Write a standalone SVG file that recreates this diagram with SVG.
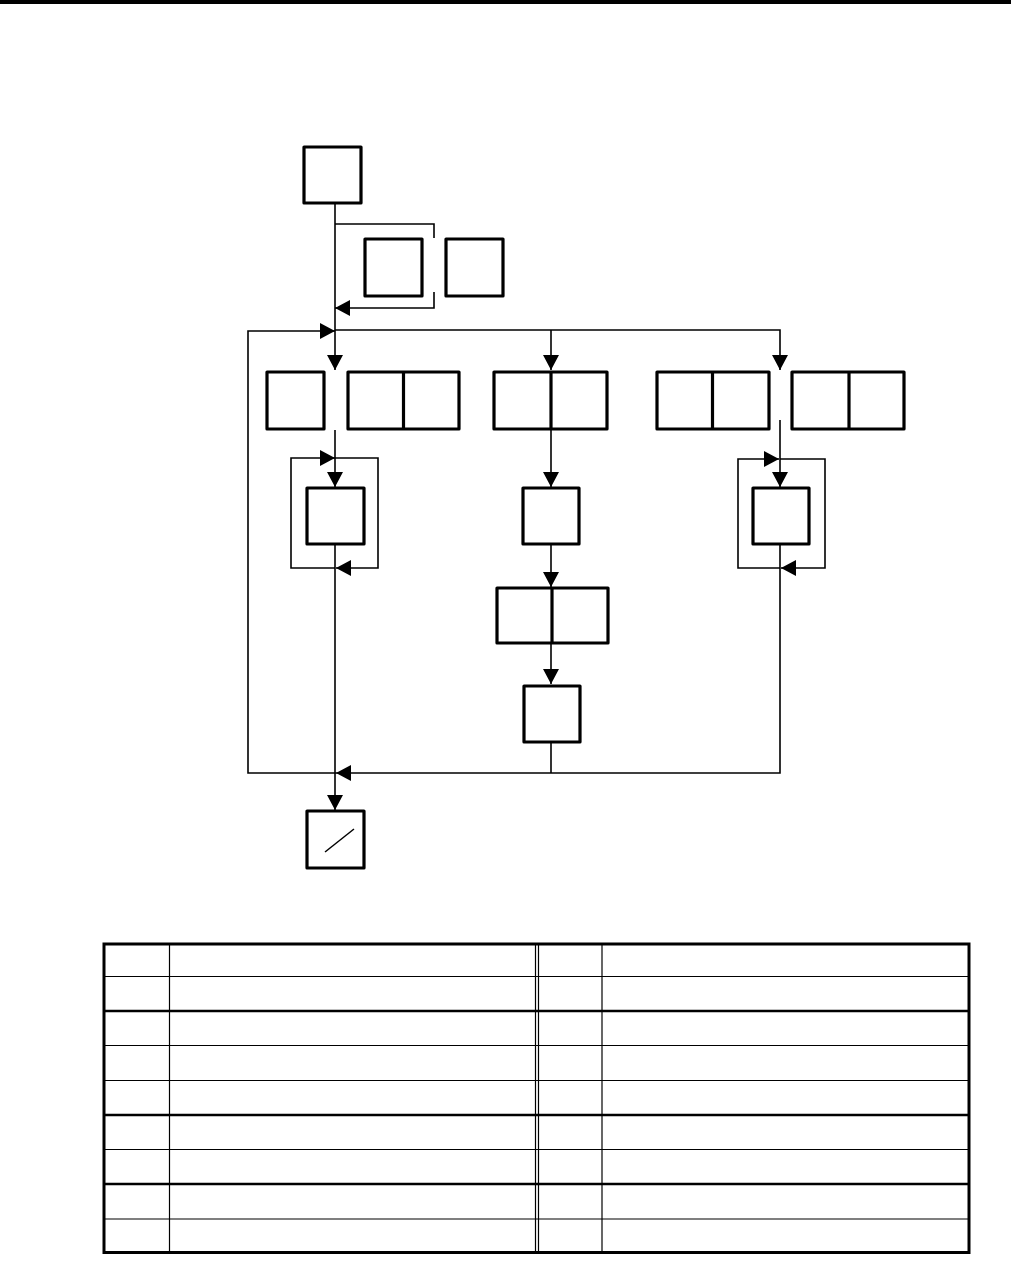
<svg xmlns="http://www.w3.org/2000/svg" width="1031" height="1267" viewBox="0 0 1031 1267">
<defs>
<style>
.box{fill:#fff;stroke:#000;stroke-width:3.2;stroke-linejoin:round}
.div{stroke:#000;stroke-width:3.2}
.con{fill:none;stroke:#000;stroke-width:1.6}
.tl{stroke:#000;stroke-width:1.2}
.tt{stroke:#000;stroke-width:2.5}
</style>
<marker id="ah" markerUnits="userSpaceOnUse" markerWidth="15" markerHeight="16" refX="15" refY="8" orient="auto" viewBox="0 0 15 16">
<path d="M0,0 L15,8 L0,16 Z" fill="#000"/>
</marker>
</defs>
<rect x="0" y="0" width="1011" height="4" fill="#000"/>
<g id="connectors">
<path class="con" d="M335,203 V370" marker-end="url(#ah)"/>
<path class="con" d="M335,224 H434 V238"/>
<path class="con" d="M434,292 V308 H335" marker-end="url(#ah)"/>
<path class="con" d="M335,330 H780 V370" marker-end="url(#ah)"/>
<path class="con" d="M551,330 V370" marker-end="url(#ah)"/>
<path class="con" d="M335,430 V487" marker-end="url(#ah)"/>
<path class="con" d="M551,429 V487" marker-end="url(#ah)"/>
<path class="con" d="M780,420 V487" marker-end="url(#ah)"/>
<path class="con" d="M335,568 H291 V458 H335" marker-end="url(#ah)"/>
<path class="con" d="M335,458 H378 V568 H336" marker-end="url(#ah)"/>
<path class="con" d="M335,544 V810" marker-end="url(#ah)"/>
<path class="con" d="M780,568 H738 V459 H779" marker-end="url(#ah)"/>
<path class="con" d="M780,459 H825 V568 H781" marker-end="url(#ah)"/>
<path class="con" d="M780,544 V773 H336" marker-end="url(#ah)"/>
<path class="con" d="M336,773 H248 V331 H335" marker-end="url(#ah)"/>
<path class="con" d="M551,544 V587" marker-end="url(#ah)"/>
<path class="con" d="M551,643 V684" marker-end="url(#ah)"/>
<path class="con" d="M551,742 V773"/>
</g>
<g id="n-top"><rect class="box" x="304" y="147" width="57" height="56"/></g>
<g id="n-opt1"><rect class="box" x="365" y="239" width="57" height="57"/></g>
<g id="n-opt2"><rect class="box" x="446" y="239" width="57" height="57"/></g>
<g id="n-a"><rect class="box" x="267" y="372" width="57" height="57"/></g>
<g id="n-b"><rect class="box" x="348" y="372" width="111" height="57"/><line class="div" x1="403.5" y1="372" x2="403.5" y2="429"/></g>
<g id="n-c"><rect class="box" x="494" y="372" width="113" height="57"/><line class="div" x1="551" y1="372" x2="551" y2="429"/></g>
<g id="n-d"><rect class="box" x="657" y="372" width="112" height="57"/><line class="div" x1="712.5" y1="372" x2="712.5" y2="429"/></g>
<g id="n-e"><rect class="box" x="792" y="372" width="112" height="57"/><line class="div" x1="849" y1="372" x2="849" y2="429"/></g>
<g id="n-loop1"><rect class="box" x="307" y="488" width="57" height="56"/></g>
<g id="n-mid1"><rect class="box" x="523" y="488" width="56" height="56"/></g>
<g id="n-loop2"><rect class="box" x="753" y="488" width="56" height="56"/></g>
<g id="n-mid2"><rect class="box" x="497" y="588" width="111" height="55"/><line class="div" x1="552" y1="588" x2="552" y2="643"/></g>
<g id="n-mid3"><rect class="box" x="524" y="686" width="56" height="56"/></g>
<g id="n-end"><rect class="box" x="307" y="811" width="57" height="57"/><line x1="325" y1="852" x2="354" y2="829" stroke="#000" stroke-width="1.5"/></g>
<g id="table">
<rect x="104" y="944" width="865" height="308.5" fill="none" stroke="#000" stroke-width="3"/>
<line class="tl" x1="104" y1="976.5" x2="969" y2="976.5"/>
<line class="tt" x1="104" y1="1011" x2="969" y2="1011"/>
<line class="tl" x1="104" y1="1045.5" x2="969" y2="1045.5"/>
<line class="tl" x1="104" y1="1080.5" x2="969" y2="1080.5"/>
<line class="tt" x1="104" y1="1115" x2="969" y2="1115"/>
<line class="tl" x1="104" y1="1149.5" x2="969" y2="1149.5"/>
<line class="tt" x1="104" y1="1184" x2="969" y2="1184"/>
<line class="tl" x1="104" y1="1219" x2="969" y2="1219"/>
<line class="tl" x1="169.5" y1="944" x2="169.5" y2="1252"/>
<line class="tl" x1="535.5" y1="944" x2="535.5" y2="1252"/>
<line class="tl" x1="538.5" y1="944" x2="538.5" y2="1252"/>
<line class="tl" x1="602" y1="944" x2="602" y2="1252"/>
</g>
</svg>
